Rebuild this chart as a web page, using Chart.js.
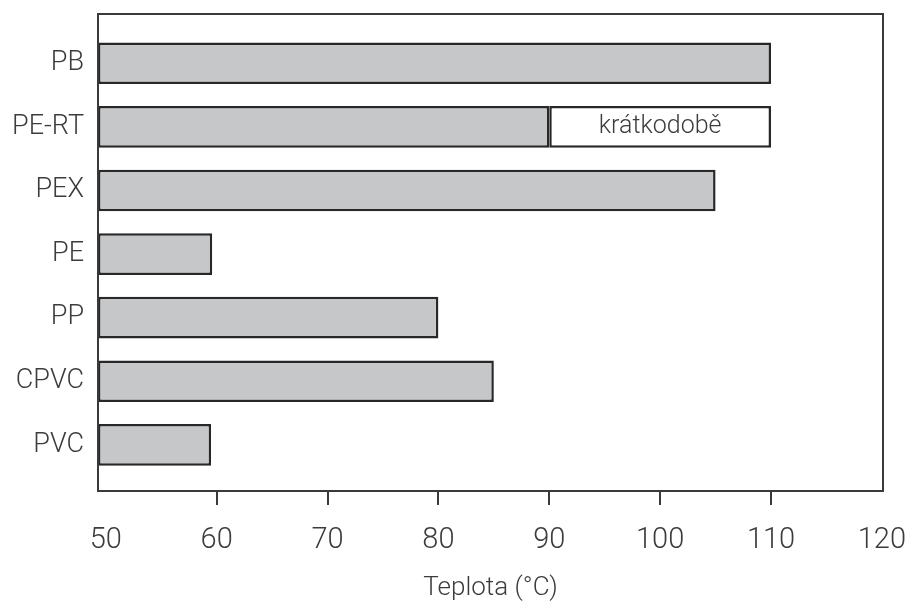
<!DOCTYPE html>
<html>
<head>
<meta charset="utf-8">
<script src="https://cdn.jsdelivr.net/npm/chart.js@4/dist/chart.umd.min.js"></script>
<style>
  html, body { margin: 0; padding: 0; background: #ffffff; }
  #wrap { width: 912px; height: 604px; }
</style>
</head>
<body>
<div id="wrap"><canvas id="c" width="912" height="604"></canvas></div>
<script>
// ---- data ----
const categories = ['PB', 'PE-RT', 'PEX', 'PE', 'PP', 'CPVC', 'PVC'];
const maxTemps = [110, 90, 105, 59.6, 80, 85, 59.5];
const shortTermCategory = 'PE-RT';
const shortTermRange = [90, 110];
const shortTermLabel = 'krátkodobě';
const xTickValues = [50, 60, 70, 80, 90, 100, 110, 120];
const xAxisTitle = 'Teplota (°C)';

const X_MIN = 49.3, X_MAX = 120.1;
const TEXT = '#3c3c3c';
const LINE = '#3a3a3a';
const FONT = 'Roboto, "Liberation Sans", sans-serif';

const mainData = categories.map((c, i) => ({ x: maxTemps[i], y: i }));
const shortData = [{ x: shortTermRange, y: categories.indexOf(shortTermCategory) }];

const framePlugin = {
  id: 'frame',
  afterDatasetsDraw(chart) {
    const { ctx, chartArea: a } = chart;
    ctx.save();
    ctx.strokeStyle = LINE;
    ctx.lineWidth = 2;
    ctx.strokeRect(a.left, a.top, a.right - a.left, a.bottom - a.top);
    const el = chart.getDatasetMeta(1).data[0];
    if (el) {
      ctx.fillStyle = TEXT;
      ctx.font = '300 25px ' + FONT;
      ctx.textAlign = 'center';
      ctx.textBaseline = 'middle';
      ctx.fillText(shortTermLabel, (el.x + el.base) / 2, el.y);
    }
    ctx.restore();
  }
};

new Chart(document.getElementById('c'), {
  type: 'bar',
  data: {
    datasets: [
      {
        data: mainData,
        base: X_MIN,
        backgroundColor: '#c6c7c9',
        borderColor: '#282828',
        borderWidth: 2.5,
        borderSkipped: false,
        grouped: false,
        barPercentage: 0.655,
        categoryPercentage: 1
      },
      {
        data: shortData,
        backgroundColor: '#ffffff',
        borderColor: '#282828',
        borderWidth: 2.5,
        borderSkipped: false,
        grouped: false,
        barPercentage: 0.655,
        categoryPercentage: 1
      }
    ]
  },
  options: {
    indexAxis: 'y',
    responsive: false,
    animation: false,
    layout: { padding: { top: 14, right: 29, left: 0, bottom: 0 } },
    plugins: { legend: { display: false }, tooltip: { enabled: false } },
    scales: {
      x: {
        type: 'linear',
        min: X_MIN,
        max: X_MAX,
        offset: false,
        afterBuildTicks(scale) { scale.ticks = xTickValues.map(v => ({ value: v })); },
        afterFit(scale) { scale.height = 113; scale.paddingLeft = 0; scale.paddingRight = 0; },
        grid: {
          drawOnChartArea: false,
          drawTicks: true,
          tickLength: 14,
          lineWidth: 2,
          color: (ctx) => (ctx.tick && (ctx.tick.value === 50 || ctx.tick.value === 120)) ? 'rgba(0,0,0,0)' : LINE
        },
        border: { display: false },
        ticks: {
          color: TEXT,
          padding: 18,
          font: { family: FONT, size: 29, weight: '300' },
          maxRotation: 0,
          autoSkip: false
        },
        title: {
          display: true,
          text: xAxisTitle,
          color: TEXT,
          font: { family: FONT, size: 26, weight: '300' },
          padding: { top: 4, bottom: 0 }
        }
      },
      y: {
        type: 'linear',
        reverse: true,
        offset: false,
        min: -0.775,
        max: 6.725,
        afterBuildTicks(scale) { scale.ticks = categories.map((c, i) => ({ value: i })); },
        afterFit(scale) { scale.width = 98; scale.paddingTop = 0; scale.paddingBottom = 0; },
        grid: { display: false, drawTicks: false },
        border: { display: false },
        ticks: {
          color: TEXT,
          padding: 14,
          autoSkip: false,
          font: { family: FONT, size: 27, weight: '300' },
          callback: (v) => categories[v]
        }
      }
    }
  },
  plugins: [framePlugin]
});
</script>
</body>
</html>
